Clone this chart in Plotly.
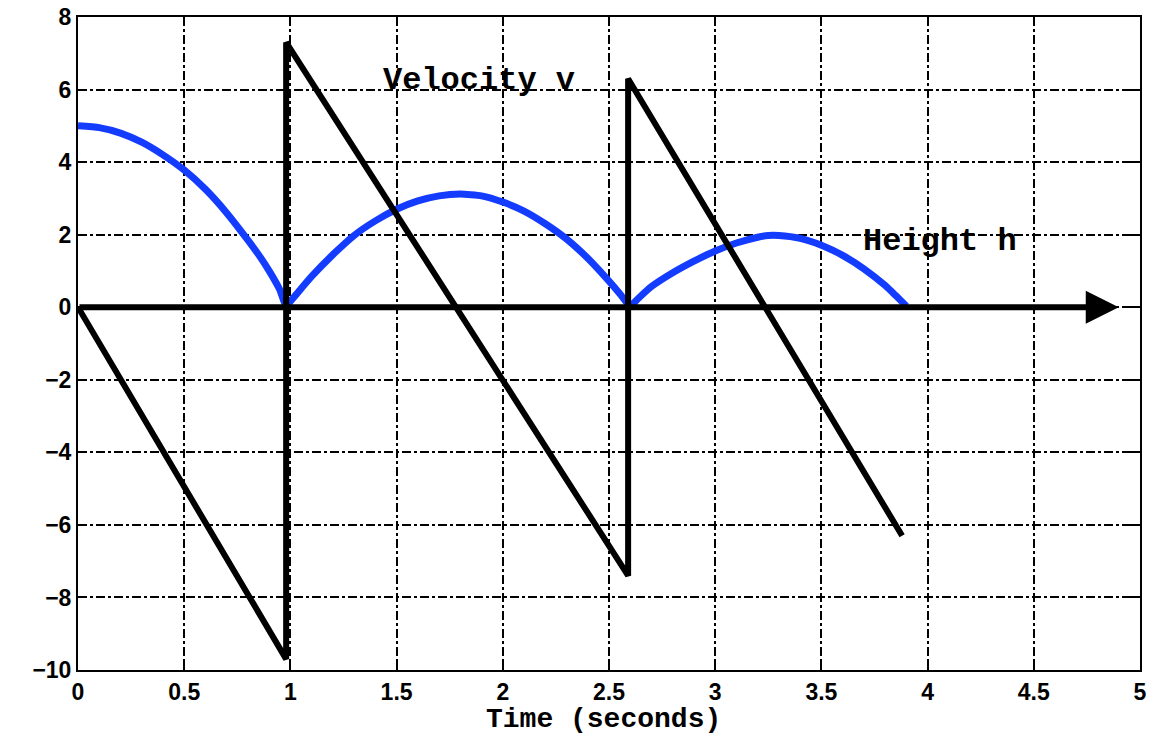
import plotly.graph_objects as go

# Height h (bouncing ball)
h_t = [0.0, 0.1, 0.2, 0.3, 0.4, 0.5, 0.6, 0.7, 0.8, 0.85, 0.9, 0.95, 0.98,
       1.02, 1.05, 1.1, 1.2, 1.3, 1.4, 1.5, 1.6, 1.7, 1.8, 1.9, 2.0, 2.1, 2.2, 2.3, 2.4, 2.5, 2.55, 2.6,
       2.62, 2.65, 2.7, 2.8, 2.9, 3.0, 3.1, 3.2, 3.25, 3.3, 3.4, 3.5, 3.6, 3.7, 3.8, 3.85, 3.9]
h_v = [5.0, 4.95, 4.8, 4.55, 4.2, 3.78, 3.25, 2.6, 1.85, 1.45, 1.0, 0.48, 0.05,
       0.30, 0.51, 0.85, 1.45, 1.98, 2.38, 2.7, 2.93, 3.07, 3.12, 3.07, 2.9, 2.65, 2.3, 1.88, 1.35, 0.72, 0.38, 0.02,
       0.14, 0.31, 0.57, 0.95, 1.27, 1.55, 1.77, 1.93, 1.98, 1.98, 1.9, 1.71, 1.43, 1.06, 0.6, 0.32, 0.03]

# Velocity v
v_t = [0.0, 0.98, 0.98, 2.59, 2.59, 3.88]
v_v = [0.0, -9.7, 7.3, -7.4, 6.3, -6.3]

x_ticks = [0, 0.5, 1, 1.5, 2, 2.5, 3, 3.5, 4, 4.5, 5]
x_labels = ["0", "0.5", "1", "1.5", "2", "2.5", "3", "3.5", "4", "4.5", "5"]
y_ticks = [-10, -8, -6, -4, -2, 0, 2, 4, 6, 8]

fig = go.Figure()
fig.add_trace(go.Scatter(x=h_t, y=h_v, mode="lines",
                         line=dict(color="rgb(20,60,255)", width=7, shape="spline", smoothing=0.5),
                         showlegend=False, hoverinfo="skip"))
fig.add_trace(go.Scatter(x=v_t, y=v_v, mode="lines", line=dict(color="black", width=6),
                         showlegend=False, hoverinfo="skip"))

# time axis arrow
fig.add_annotation(x=4.9, y=0, ax=0, ay=0, xref="x", yref="y", axref="x", ayref="y",
                   text="", showarrow=True, arrowhead=2, arrowsize=1.1, arrowwidth=6, arrowcolor="black")

mono = "Liberation Mono, Courier New, monospace"
fig.add_annotation(x=1.89, y=6.25, text="Velocity v", showarrow=False,
                   font=dict(family=mono, size=32, color="black", weight="bold"))
fig.add_annotation(x=4.06, y=1.8, text="Height h", showarrow=False,
                   font=dict(family=mono, size=32, color="black", weight="bold"))
# x-axis title
fig.add_annotation(x=0.5, y=0, xref="paper", yref="paper", yanchor="middle", yshift=-49, xshift=-6,
                   text="Time (seconds)", showarrow=False,
                   font=dict(family=mono, size=28, color="black", weight="bold"))

axis_common = dict(showline=True, linecolor="black", linewidth=2, mirror="ticks",
                   ticks="inside", ticklen=9, tickwidth=2, tickcolor="black",
                   showgrid=True, gridcolor="black", gridwidth=1.5, griddash="dashdot",
                   zeroline=False, automargin=False, ticklabeloverflow="allow",
                   tickfont=dict(family="Liberation Sans, Arial, sans-serif", size=23, color="black", weight="bold"))

fig.update_xaxes(range=[0, 5], tickvals=x_ticks, ticktext=x_labels, **axis_common)
fig.update_yaxes(range=[-10, 8], tickvals=y_ticks, ticklabelstandoff=0, **axis_common)

fig.update_layout(width=1154, height=736, plot_bgcolor="white", paper_bgcolor="white",
                  margin=dict(l=78, r=14, t=17, b=66, autoexpand=False))

# remove the default page margin so the figure fills the window exactly
fig.write_html("out.html", config={"displayModeBar": False},
               post_script="document.body.style.margin='0';")
